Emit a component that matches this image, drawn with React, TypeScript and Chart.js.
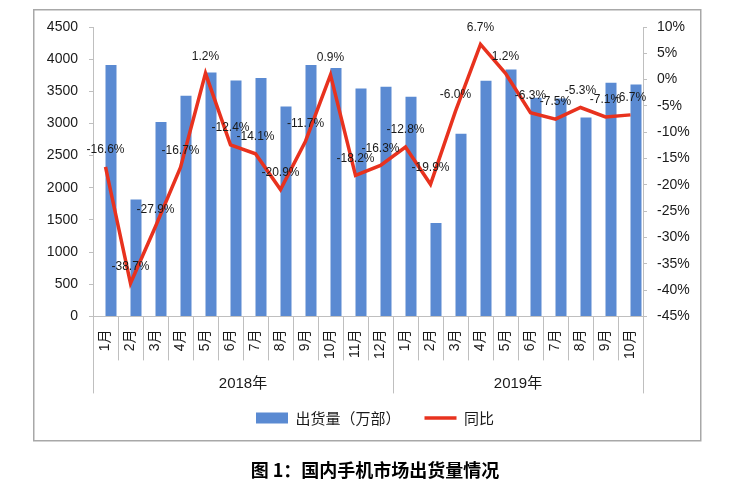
import React, { useEffect, useRef } from 'react';
import { Chart, registerables } from 'chart.js';

Chart.register(...registerables);

// ---- data ----
const months2018 = ['1月', '2月', '3月', '4月', '5月', '6月', '7月', '8月', '9月', '10月', '11月', '12月'];
const months2019 = ['1月', '2月', '3月', '4月', '5月', '6月', '7月', '8月', '9月', '10月'];
const yearLabels = ['2018年', '2019年'];
const shipments2018 = [3908, 1817, 3021, 3430, 3794, 3670, 3706, 3265, 3908, 3862, 3545, 3570];
const shipments2019 = [3415, 1453, 2839, 3664, 3841, 3400, 3390, 3094, 3633, 3607];
const yoy2018 = [-16.6, -38.7, -27.9, -16.7, 1.2, -12.4, -14.1, -20.9, -11.7, 0.9, -18.2, -16.3];
const yoy2019 = [-12.8, -19.9, -6.0, 6.7, 1.2, -6.3, -7.5, -5.3, -7.1, -6.7];
const seriesBarName = '出货量（万部）';
const seriesLineName = '同比';
const titleText = '图 1：国内手机市场出货量情况';

const categories = [...months2018, ...months2019];
const shipments = [...shipments2018, ...shipments2019];
const yoy = [...yoy2018, ...yoy2019];
const groups = [
  { label: yearLabels[0], count: months2018.length },
  { label: yearLabels[1], count: months2019.length },
];

const BAR_COLOR = '#5a8ad2';
const LINE_COLOR = '#e8321e';
const AXIS_COLOR = '#bfbfbf';
const TEXT_COLOR = '#1a1a1a';
const LATIN = '"Liberation Sans", "Noto Sans CJK SC", sans-serif';
const CJK = '"Noto Sans CJK SC", "Liberation Sans", sans-serif';

const framePlugin = {
  id: 'frame',
  beforeDraw(chart: any) {
    const { ctx, width, height } = chart;
    ctx.save();
    ctx.fillStyle = '#ffffff';
    ctx.fillRect(0, 0, width, height);
    ctx.strokeStyle = '#a8a8a8';
    ctx.lineWidth = 1.5;
    ctx.strokeRect(33.75, 9.75, 667, 431);
    ctx.restore();
  },
};

const groupAxisPlugin = {
  id: 'groupAxis',
  afterDraw(chart: any) {
    const x = chart.scales.x;
    const { ctx } = chart;
    const half = (x.getPixelForValue(1) - x.getPixelForValue(0)) / 2;
    const top = x.top;
    ctx.save();
    ctx.strokeStyle = AXIS_COLOR;
    ctx.lineWidth = 1;
    ctx.fillStyle = TEXT_COLOR;
    ctx.font = `15px ${LATIN}`;
    ctx.textAlign = 'center';
    ctx.textBaseline = 'middle';
    let start = 0;
    const edges: number[] = [];
    groups.forEach((g) => {
      const left = x.getPixelForValue(start) - half;
      const right = x.getPixelForValue(start + g.count - 1) + half;
      edges.push(left, right);
      ctx.fillText(g.label, (left + right) / 2, top + 67);
      start += g.count;
    });
    Array.from(new Set(edges.map((e) => Math.round(e)))).forEach((e) => {
      ctx.beginPath();
      ctx.moveTo(e + 0.5, top);
      ctx.lineTo(e + 0.5, top + 77);
      ctx.stroke();
    });
    ctx.restore();
  },
};

const pointLabelPlugin = {
  id: 'pointLabels',
  afterDatasetsDraw(chart: any) {
    const idx = chart.data.datasets.findIndex((d: any) => d.type === 'line');
    const meta = chart.getDatasetMeta(idx);
    const { ctx } = chart;
    ctx.save();
    ctx.font = `12px ${LATIN}`;
    ctx.fillStyle = TEXT_COLOR;
    ctx.textAlign = 'center';
    ctx.textBaseline = 'middle';
    meta.data.forEach((pt: any, i: number) => {
      const v = chart.data.datasets[idx].data[i] as number;
      ctx.fillText(v.toFixed(1) + '%', pt.x, pt.y - 17);
    });
    ctx.restore();
  },
};

export default function App() {
  const ref = useRef<HTMLCanvasElement>(null);
  useEffect(() => {
    const chart = new Chart(ref.current as HTMLCanvasElement, {
      type: 'bar',
      data: {
        labels: categories,
        datasets: [
          {
            type: 'bar',
            label: seriesBarName,
            data: shipments,
            backgroundColor: BAR_COLOR,
            borderWidth: 0,
            yAxisID: 'y',
            order: 2,
            categoryPercentage: 0.88,
            barPercentage: 1,
          } as any,
          {
            type: 'bar',
            label: '',
            data: categories.map(() => null),
            backgroundColor: 'rgba(0,0,0,0)',
            borderWidth: 0,
            yAxisID: 'y',
            order: 1,
            categoryPercentage: 0.88,
            barPercentage: 1,
          } as any,
          {
            type: 'line',
            label: seriesLineName,
            data: yoy,
            borderColor: LINE_COLOR,
            backgroundColor: LINE_COLOR,
            borderWidth: 3.5,
            pointRadius: 0,
            tension: 0,
            yAxisID: 'y2',
            order: 0,
          } as any,
        ],
      },
      options: {
        responsive: false,
        animation: false,
        devicePixelRatio: 1,
        layout: { padding: { top: 27, left: 0, right: 0, bottom: 0 } },
        scales: {
          x: {
            grid: {
              offset: true,
              drawOnChartArea: false,
              drawTicks: true,
              tickLength: 44,
              color: AXIS_COLOR,
            },
            border: { display: true, color: AXIS_COLOR },
            ticks: {
              autoSkip: false,
              minRotation: 90,
              maxRotation: 90,
              padding: -31,
              color: TEXT_COLOR,
              font: { size: 14, family: LATIN },
            },
            afterFit(scale: any) {
              scale.height = 70;
            },
          },
          y: {
            position: 'left',
            min: 0,
            max: 4500,
            ticks: {
              stepSize: 500,
              padding: 11,
              color: TEXT_COLOR,
              font: { size: 14, family: LATIN },
              callback: (v: any) => String(Math.round(Number(v))),
            },
            grid: { drawOnChartArea: false, drawTicks: true, tickLength: 4, color: AXIS_COLOR },
            border: { display: true, color: AXIS_COLOR },
            afterFit(scale: any) {
              scale.width = 93;
            },
          },
          y2: {
            position: 'right',
            min: -45,
            max: 10,
            ticks: {
              stepSize: 5,
              padding: 10,
              color: TEXT_COLOR,
              font: { size: 14, family: LATIN },
              callback: (v: any) => Math.round(Number(v)) + '%',
            },
            grid: { drawOnChartArea: false, drawTicks: true, tickLength: 4, color: AXIS_COLOR },
            border: { display: true, color: AXIS_COLOR },
            afterFit(scale: any) {
              scale.width = 107;
            },
          },
        },
        plugins: {
          tooltip: { enabled: false },
          legend: {
            position: 'bottom',
            labels: {
              usePointStyle: true,
              pointStyleWidth: 32,
              boxHeight: 11,
              padding: 24,
              color: TEXT_COLOR,
              font: { size: 15, family: CJK },
              generateLabels: (c: any) => {
                const items = (Chart.defaults.plugins.legend.labels as any).generateLabels(c);
                return items
                  .filter((it: any) => it.text)
                  .sort((a: any, b: any) => a.datasetIndex - b.datasetIndex)
                  .map((it: any) => {
                    const isLine = c.data.datasets[it.datasetIndex].type === 'line';
                    return {
                      ...it,
                      pointStyle: isLine ? 'line' : 'rect',
                      lineWidth: isLine ? 3.5 : 0,
                      strokeStyle: isLine ? LINE_COLOR : BAR_COLOR,
                      fillStyle: isLine ? LINE_COLOR : BAR_COLOR,
                    };
                  });
              },
            },
          },
          title: {
            display: true,
            position: 'bottom',
            text: titleText,
            color: '#000000',
            font: { size: 18, weight: 'bold', family: CJK },
            padding: { top: 24, bottom: 12 },
          },
        },
      } as any,
      plugins: [framePlugin, groupAxisPlugin, pointLabelPlugin],
    });
    return () => chart.destroy();
  }, []);
  return (
    <div style={{ position: 'fixed', left: 0, top: 0, width: 750, height: 493, background: '#fff' }}>
      <canvas ref={ref} width={750} height={493} style={{ display: 'block' }} />
    </div>
  );
}
